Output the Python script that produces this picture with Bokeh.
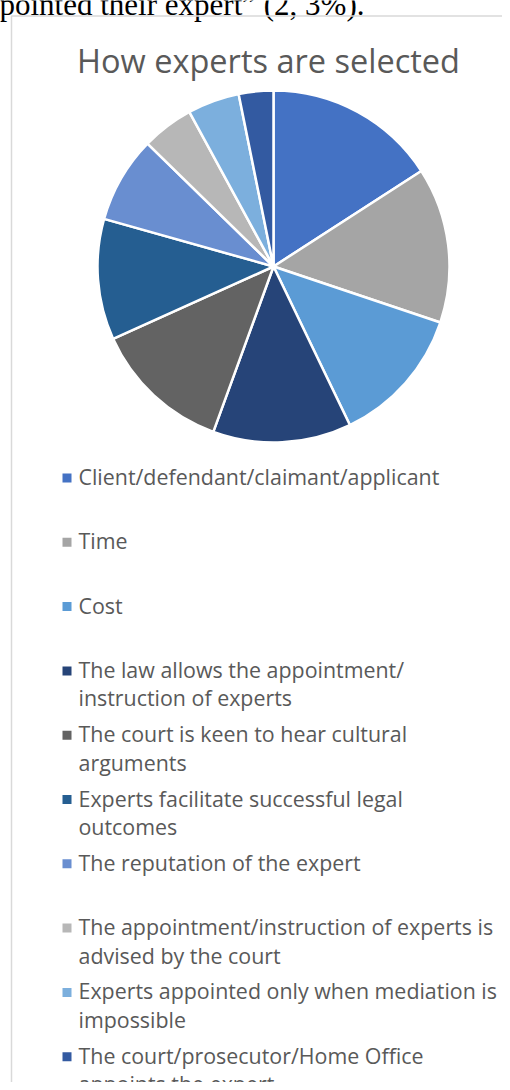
import math
from bokeh.plotting import figure
from bokeh.models import Range1d, ColumnDataSource
from bokeh.core.properties import value
from bokeh.embed import file_html
from bokeh.resources import INLINE

# ---- data ----
title = "How experts are selected"
categories = [
    "Client/defendant/claimant/applicant",
    "Time",
    "Cost",
    "The law allows the appointment/\ninstruction of experts",
    "The court is keen to hear cultural\narguments",
    "Experts facilitate successful legal\noutcomes",
    "The reputation of the expert",
    "The appointment/instruction of experts is\nadvised by the court",
    "Experts appointed only when mediation is\nimpossible",
    "The court/prosecutor/Home Office\nappoints the expert",
]
counts = [10, 9, 8, 8, 8, 7, 5, 3, 3, 2]
colors = ["#4472C4", "#A5A5A5", "#5B9BD5", "#264478", "#636363",
          "#255E91", "#698ED0", "#B7B7B7", "#7CAFDD", "#335AA1"]
above_text = "pointed their expert\u201d (2, 3%)."

W, H = 502, 1082
def Y(py):  # picture y (from top) -> data y
    return H - py

p = figure(width=W, height=H, output_backend="svg", toolbar_location=None,
           x_range=Range1d(0, W), y_range=Range1d(0, H),
           min_border=0, outline_line_color=None)
p.axis.visible = False
p.grid.visible = False
p.background_fill_color = "white"

FONT = "Open Sans"

# document text above chart (cut at page top)
p.text(x=[-1], y=[Y(3.5)], text=[above_text], text_font=value("Liberation Serif"),
       text_font_size="31px", text_color="#000000", text_baseline="middle")

# chart border
p.line([11, 11, 520], [Y(1100), Y(15.5), Y(15.5)], line_color="#D9D9D9", line_width=1.5)

# title
p.text(x=[268], y=[Y(60)], text=[title], text_font=value(FONT),
       text_font_size="32.5px", text_color="#595959", text_align="center",
       text_baseline="middle")

# pie
total = sum(counts)
cx, cy, r = 273, Y(266), 176
starts, ends = [], []
cum = 0.0
for c in counts:
    a0 = cum / total * 2 * math.pi
    cum += c
    a1 = cum / total * 2 * math.pi
    starts.append(math.pi / 2 - a1)
    ends.append(math.pi / 2 - a0)
src = ColumnDataSource(dict(x=[cx] * len(counts), y=[cy] * len(counts),
                            s=starts, e=ends, color=colors))
p.wedge(x="x", y="y", radius=r, radius_units="screen", start_angle="s", end_angle="e",
        direction="anticlock", fill_color="color", line_color="white", line_width=2.5,
        source=src)

# legend
y0, step, lh = 476, 64.3, 28.5
mx, my, tx, ty, tt = [], [], [], [], []
for i, lab in enumerate(categories):
    yc = y0 + i * step
    mx.append(66.5); my.append(Y(yc + 1.5))
    for j, line in enumerate(lab.split("\n")):
        tx.append(78); ty.append(Y(yc + j * lh)); tt.append(line)
p.scatter(x=mx, y=my, marker="square", size=9, fill_color=colors, line_color=None)
p.text(x=tx, y=ty, text=tt, text_font=value(FONT), text_font_size="21.4px",
       text_color="#595959", text_baseline="middle")

open("out.html", "w").write(file_html(p, INLINE))
